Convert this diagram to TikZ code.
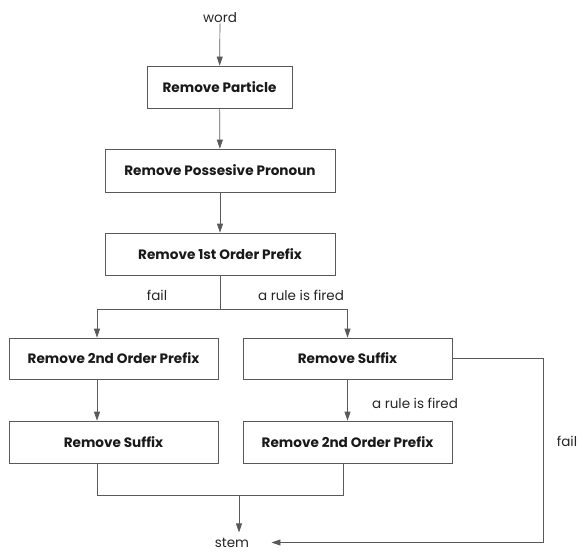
\documentclass[tikz,border=0pt]{standalone}
\usepackage{fontspec}
\setmainfont{Poppins}
\usetikzlibrary{arrows.meta}
\begin{document}
\begin{tikzpicture}[x=1pt,y=-1pt,
    line width=0.7pt,
    stepbox/.style={draw=black!65, line width=0.7pt, inner sep=0pt,
      font=\bfseries\fontsize{13.6}{16}\selectfont, text=black!90},
    tag/.style={inner sep=0pt, font=\fontsize{13.5}{16}\selectfont, text=black!85},
    flow/.style={draw=black!65, -{Triangle[length=9pt,width=6pt]}},
    link/.style={draw=black!65}]
  \useasboundingbox (0,0) rectangle (580,552);

  % Marking the input word and the output stem
  \node[tag] (word) at (220,18) {word};%
  \node[tag, inner xsep=22pt, inner ysep=5pt] (stem) at (232,542.5) {stem};%

  % Drawing the main chain of boxes
  \node[stepbox, minimum width=145pt, minimum height=42pt] (particle) at (219.5,87) {Remove Particle};%
  \node[stepbox, minimum width=230pt, minimum height=43pt] (pronoun) at (220,170.5) {Remove Possesive Pronoun};%
  \node[stepbox, minimum width=230pt, minimum height=42pt] (prefixone) at (220,254) {Remove 1st Order Prefix};%

  % Drawing the two branches
  \node[stepbox, minimum width=209pt, minimum height=41pt] (prefixtwoL) at (113.5,358.5) {Remove 2nd Order Prefix};%
  \node[stepbox, minimum width=209pt, minimum height=41pt] (suffixR) at (347.5,358.5) {Remove Suffix};%
  \node[stepbox, minimum width=209pt, minimum height=42pt] (suffixL) at (113.5,442) {Remove Suffix};%
  \node[stepbox, minimum width=209pt, minimum height=42pt] (prefixtwoR) at (347.5,442) {Remove 2nd Order Prefix};%

  % Marking branch points
  \coordinate (split) at (220,309);%
  \coordinate (merge) at (239,495);%
  \coordinate (failcorner) at (543,358.5);%

  % Drawing the main chain arrows
  \draw[flow] (word) -- (particle);%
  \draw[flow] (particle) -- (pronoun);%
  \draw[flow] (pronoun) -- (prefixone);%

  % Drawing the split after the 1st order prefix
  \draw[link] (prefixone.south) -- (split);%
  \draw[flow] (split) -| ([xshift=-16.5pt]prefixtwoL.north);%
  \draw[flow] (split) -| (suffixR.north);%
  \node[tag] (faillabel) at (157,295) {fail};%
  \node[tag] (firedlabel) at (301,295) {a rule is fired};%

  % Drawing the second row arrows
  \draw[flow] ([xshift=-16.5pt]prefixtwoL.south) -- ([xshift=-16.5pt]suffixL.north);%
  \draw[flow] (suffixR) -- (prefixtwoR);%
  \node[tag] (firedlabeltwo) at (415,403) {a rule is fired};%

  % Drawing the merge into the stem
  \draw[link] ([xshift=-16.5pt]suffixL.south) |- (merge);%
  \draw[link] ([xshift=-4.5pt]prefixtwoR.south) |- (merge);%
  \draw[flow] (merge) -- (merge |- stem.north);%

  % Drawing the failing suffix path
  \draw[flow] (suffixR.east) -- (failcorner) |- (stem.east);%
  \node[tag] (failtwo) at (567,441) {fail};%
\end{tikzpicture}
\end{document}
